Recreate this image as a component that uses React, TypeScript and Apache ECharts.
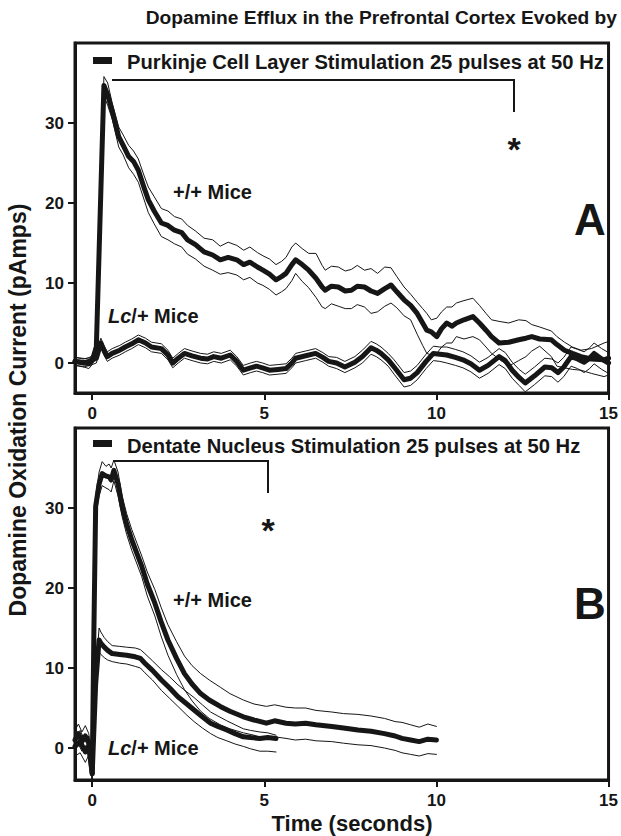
import React, { useEffect, useRef } from "react";
import * as echarts from "echarts";

// ---------- axis ticks ----------
const xTickValues = [0, 5, 10, 15];
const yTickValues = [0, 10, 20, 30];

// ---------- Panel A: Purkinje cell layer stimulation ----------
// +/+ mice
const tA_wt = [
  -0.5, -0.25, 0, 0.12, 0.34, 0.45, 0.58, 0.77, 0.9, 1.06,
  1.2, 1.34, 1.5, 1.63, 1.8, 2.01, 2.2, 2.39, 2.6, 2.77,
  3.0, 3.25, 3.5, 3.72, 3.95, 4.2, 4.4, 4.58, 4.8, 4.96,
  5.15, 5.34, 5.5, 5.63, 5.8, 5.91, 6.1, 6.29, 6.5, 6.68,
  6.77, 6.95, 7.15, 7.35, 7.53, 7.7, 7.91, 8.1, 8.29, 8.5,
  8.68, 8.85, 9.06, 9.25, 9.44, 9.6, 9.72, 9.85, 10.01, 10.15,
  10.3, 10.45, 10.58, 10.8, 11.06, 11.25, 11.44, 11.6, 11.82, 12.1,
  12.39, 12.6, 12.77, 13.0, 13.34, 13.5, 13.72, 13.95, 14.2, 14.5,
  14.87, 15,
];
const meanA_wt = [
  0.2, 0, 0.3, 2, 34.7, 33.5, 31.5, 28.3, 27.2, 25.8,
  25.2, 24.1, 22, 20.4, 19, 17.5, 17.2, 16.6, 16.3, 15.4,
  14.8, 13.9, 13.5, 12.9, 13.2, 12.9, 12.3, 12.6, 12, 11.6,
  11.1, 10.4, 10.8, 11.2, 12.3, 12.9, 12.3, 11.6, 10.6, 9.5,
  9.1, 9.6, 9.5, 9.0, 9.1, 9.6, 9.5, 9.0, 8.7, 9.3,
  9.75, 8.9, 7.9, 7.2, 6.2, 5.0, 4.1, 3.9, 3.3, 4.3,
  5.0, 4.6, 5.0, 5.4, 5.8, 5.0, 4.1, 3.3, 2.5, 2.6,
  2.9, 3.1, 3.3, 3.0, 2.9, 2.3, 1.6, 1.2, 0.8, 0.5,
  0.4, 0.6,
];
const upperA_wt = [
  0.7, 0.5, 0.8, 3, 35.8, 35, 32.5, 29.5, 28.5, 27.2,
  26.5, 25.5, 23.5, 22, 20.8, 19.3, 19, 18.3, 18, 17.2,
  16.5, 15.6, 15.4, 14.6, 15.1, 14.7, 14.1, 14.5, 13.8, 13.4,
  13, 12.3, 12.7, 13.2, 14.5, 15, 14.3, 13.7, 13.7, 12.2,
  11.6, 12.1, 12, 11.5, 11.7, 12.2, 11.6, 11.8, 11.2, 12,
  11.9, 10.8, 9.5, 8.6, 7.6, 6.8, 6.2, 5.4, 5.6, 6.4,
  7, 7, 7.5, 7.8, 8.1, 7.2, 6.2, 5.4, 5.2, 5.0,
  5.4, 5.3, 4.8, 4.5, 4.0, 3.3, 2.6, 2.0, 1.6, 1.8,
  2.5, 2.7,
];
const lowerA_wt = [
  -0.3, -0.5, -0.2, 1, 33.4, 32.2, 30.5, 27, 26, 24.4,
  23.6, 22.6, 20.5, 18.8, 17.4, 15.8, 15.4, 14.9, 14.5, 13.6,
  13, 12.1, 11.6, 11.1, 11.3, 11, 10.4, 10.7, 10, 9.7,
  9.2, 8.5, 8.9, 9.3, 10.3, 11.2, 10.2, 9.4, 8.2, 7,
  6.8, 7.4, 7.1, 6.8, 6.8, 7.3, 7.0, 6.2, 6.4, 7.1,
  7.5, 6.9, 5.9, 5.4, 3.6, 2.2, 1.2, 1.0, 1.2, 2.0,
  2.5, 2.5, 3.3, 3.0, 3.3, 2.9, 2.0, 1.2, 0.5, -0.4,
  0.3, 0.8, 1.5, 2.1, 0.8, -0.4, -0.6, -0.8, -0.9, -1.3,
  -1.7, -1.5,
];

// Lc/+ mice
const tA_lc = [
  -0.5, -0.3, -0.1, 0, 0.12, 0.25, 0.35, 0.44, 0.58, 0.8,
  0.96, 1.15, 1.34, 1.55, 1.72, 2.01, 2.2, 2.34, 2.5, 2.68,
  2.9, 3.15, 3.35, 3.53, 3.75, 4.01, 4.2, 4.39, 4.6, 4.77,
  4.95, 5.15, 5.4, 5.63, 5.8, 5.91, 6.2, 6.49, 6.7, 6.87,
  7.1, 7.34, 7.63, 7.85, 8.1, 8.25, 8.39, 8.6, 8.77, 9.06,
  9.25, 9.44, 9.7, 9.91, 10.1, 10.3, 10.55, 10.77, 11.0, 11.25,
  11.5, 11.82, 12.0, 12.2, 12.4, 12.58, 12.85, 13.15, 13.35, 13.53,
  13.7, 13.91, 14.1, 14.29, 14.45, 14.58, 14.8, 15,
];
const meanA_lc = [
  0.2, 0.1, -0.1, 0.4, 0.6, 2.5, 1.5, 0.8, 1.2, 1.6,
  2.0, 2.4, 2.9, 2.5, 2.0, 1.8, 1.0, 0.0, 0.6, 1.2,
  0.9, 0.6, 0.5, 0.8, 0.6, 1.0, 0.2, -0.9, -0.6, -0.4,
  -0.6, -0.9, -0.8, -0.7, 0.0, 0.6, 0.9, 1.2, 0.7, 0.2,
  0.0, -0.5, 0.1, 0.8, 1.9, 1.6, 1.2, 0.4, -0.5, -2.1,
  -1.9, -1.2, 0.2, 1.2, 1.1, 1.0, 0.7, 0.4, -0.1, -0.9,
  -0.3, 0.8, 0.3, -0.9, -1.8, -2.5, -1.6, -0.5, -0.6, -1.2,
  -0.5, 0.8, 0.5, 0.1, 0.6, 1.2, 0.5, 0.0,
];
const semA_lc = [
  0.5, 0.5, 0.6, 0.6, 0.6, 0.6, 0.6, 0.6, 0.6, 0.6,
  0.6, 0.6, 0.6, 0.6, 0.6, 0.6, 0.6, 0.6, 0.6, 0.6,
  0.6, 0.6, 0.6, 0.6, 0.6, 0.6, 0.6, 0.6, 0.6, 0.6,
  0.6, 0.6, 0.6, 0.6, 0.6, 0.6, 0.6, 0.6, 0.6, 0.6,
  0.7, 0.7, 0.7, 0.8, 0.8, 0.8, 0.8, 0.8, 0.9, 0.9,
  0.9, 0.9, 0.9, 0.9, 0.9, 1.0, 1.0, 1.0, 1.0, 1.0,
  1.0, 1.0, 1.0, 1.0, 1.0, 1.1, 1.1, 1.1, 1.1, 1.2,
  1.2, 1.2, 1.2, 1.3, 1.3, 1.3, 1.3, 1.3,
];

// ---------- Panel B: Dentate nucleus stimulation ----------
// +/+ mice
const tB_wt = [
  -0.5, -0.4, -0.3, -0.2, -0.1, 0, 0.05, 0.1, 0.2, 0.29,
  0.4, 0.49, 0.55, 0.63, 0.75, 0.87, 1.0, 1.15, 1.3, 1.44,
  1.6, 1.82, 2.0, 2.2, 2.45, 2.68, 2.9, 3.15, 3.4, 3.72,
  4.0, 4.39, 4.7, 5.06, 5.3, 5.63, 5.9, 6.2, 6.5, 6.96,
  7.3, 7.72, 8.1, 8.49, 8.8, 9.0, 9.25, 9.5, 9.75, 10.0,
];
const meanB_wt = [
  1.0, 1.8, 0.8, 1.5, 0.6, -3.2, 15, 30.2, 33, 34.3,
  34, 33.9, 33.5, 34.7, 33, 30.2, 28, 26, 24.3, 22.7,
  20.5, 18.1, 15.8, 13.5, 11.2, 9.3, 8.0, 6.8, 6.0, 5.2,
  4.6, 3.9, 3.5, 3.1, 3.4, 3.1, 3.0, 3.1, 2.9, 2.7,
  2.5, 2.25, 2.1, 1.8, 1.5, 1.2, 1.0, 0.8, 1.1, 1.0,
];
const upperB_wt = [
  2.2, 3.0, 2.0, 2.8, 1.8, -2, 16, 31.5, 34.5, 35.8,
  35.2, 35.5, 35, 36, 34.5, 31.5, 29.3, 27.3, 25.6, 24,
  22, 19.8, 17.6, 15.4, 13.3, 11.5, 10.3, 9.3, 8.5, 7.6,
  6.8, 6.0, 5.5, 5.2, 5.4, 5.1, 5.0, 5.0, 4.7, 4.5,
  4.3, 4.2, 4.0, 3.7, 3.3, 3.2, 2.9, 2.6, 3.0, 2.7,
];
const lowerB_wt = [
  -0.2, 0.5, -0.4, 0.3, -0.6, -4, 14, 29, 31.5, 32.8,
  32.5, 32.3, 32, 33.4, 31.5, 28.9, 26.7, 24.7, 23, 21.4,
  19, 16.5, 14, 11.6, 9.2, 7.3, 5.9, 4.6, 3.7, 2.9,
  2.4, 1.9, 1.6, 1.1, 1.4, 1.2, 1.0, 1.1, 0.9, 0.8,
  0.6, 0.4, 0.3, 0.0, -0.3, -0.6, -0.8, -1.0, -0.7, -0.8,
];

// Lc/+ mice
const tB_lc = [
  -0.5, -0.35, -0.2, -0.1, 0, 0.1, 0.2, 0.25, 0.35, 0.45,
  0.58, 0.8, 1.0, 1.25, 1.4, 1.53, 1.75, 2.01, 2.25, 2.49,
  2.75, 2.96, 3.2, 3.44, 3.65, 3.91, 4.15, 4.39, 4.6, 4.87,
  5.1, 5.34,
];
const meanB_lc = [
  0.2, 0.8, -0.5, 0.3, -3.2, 8, 13.5, 13.1, 12.6, 12.2,
  11.8, 11.7, 11.6, 11.4, 11.2, 10.6, 9.7, 8.5, 7.5, 6.4,
  5.5, 4.75, 3.9, 3.1, 2.7, 2.25, 1.8, 1.4, 1.3, 1.2,
  1.3, 1.2,
];
const upperB_lc = [
  1.5, 2.2, 0.8, 1.5, -2.5, 9.5, 15, 14.5, 13.8, 13.3,
  12.8, 12.7, 12.6, 12.5, 12.3, 11.8, 10.9, 9.8, 8.9, 7.9,
  7.0, 6.3, 5.4, 4.5, 4.0, 3.4, 2.9, 2.4, 2.2, 2.0,
  1.9, 1.6,
];
const lowerB_lc = [
  -1.0, -0.6, -1.8, -0.9, -4, 6.5, 12, 11.7, 11.3, 11.0,
  10.8, 10.6, 10.5, 10.2, 10.0, 9.4, 8.5, 7.2, 6.2, 5.2,
  4.1, 3.3, 2.5, 1.8, 1.3, 0.9, 0.5, 0.2, -0.1, -0.4,
  -0.4, -0.5,
];

// ---------- texts ----------
const mainTitle = "Dopamine Efflux in the Prefrontal Cortex Evoked by";
const legendA = "Purkinje Cell Layer Stimulation 25 pulses at 50 Hz";
const legendB = "Dentate Nucleus Stimulation 25 pulses at 50 Hz";
const yTitle = "Dopamine Oxidation Current (pAmps)";
const xTitle = "Time (seconds)";

const FONT = "'Liberation Sans', Arial, Helvetica, sans-serif";
const INK = "#161616";

const pairs = (t: number[], v: number[]) => t.map((x, i) => [x, v[i]]);

function lineSeries(idx: number, data: number[][], width: number, z: number) {
  return {
    type: "line",
    xAxisIndex: idx,
    yAxisIndex: idx,
    data,
    showSymbol: false,
    symbol: "none",
    smooth: false,
    z,
    lineStyle: { color: INK, width, join: "round", cap: "round" },
    emphasis: { disabled: true },
    silent: true,
  };
}

function xAxisCfg(idx: number) {
  return {
    type: "value",
    gridIndex: idx,
    min: -0.5,
    max: 15,
    axisLine: { show: true, onZero: false, lineStyle: { color: INK, width: 3 } },
    axisTick: {
      show: true,
      inside: false,
      length: 7,
      customValues: xTickValues,
      lineStyle: { color: INK, width: 2 },
    },
    axisLabel: {
      show: true,
      margin: 12,
      customValues: xTickValues,
      color: INK,
      fontFamily: FONT,
      fontWeight: "bold",
      fontSize: 17,
    },
    splitLine: { show: false },
  };
}

function yAxisCfg(idx: number, min: number) {
  return {
    type: "value",
    gridIndex: idx,
    min,
    max: 40,
    axisLine: { show: true, onZero: false, lineStyle: { color: INK, width: 3 } },
    axisTick: {
      show: true,
      inside: false,
      length: 7,
      customValues: yTickValues,
      lineStyle: { color: INK, width: 2 },
    },
    axisLabel: {
      show: true,
      margin: 11,
      customValues: yTickValues,
      color: INK,
      fontFamily: FONT,
      fontWeight: "bold",
      fontSize: 17,
    },
    splitLine: { show: false },
  };
}

function txt(text: string, x: number, y: number, size: number, align = "left", extra: any = {}) {
  return {
    type: "text",
    x,
    y,
    silent: true,
    z: 100,
    ...extra,
    style: {
      text,
      fill: INK,
      font: `bold ${size}px ${FONT}`,
      align,
      verticalAlign: "middle",
      textAlign: align,
      textVerticalAlign: "middle",
      ...(extra.style || {}),
    },
  };
}

function miceLc(x: number, y: number) {
  return {
    type: "text",
    x,
    y,
    silent: true,
    z: 100,
    style: {
      text: "{i|Lc}{n|/+ Mice}",
      align: "left",
      verticalAlign: "middle",
      textAlign: "left",
      textVerticalAlign: "middle",
      rich: {
        i: { fontFamily: FONT, fontWeight: "bold", fontStyle: "italic", fontSize: 20, fill: INK, color: INK },
        n: { fontFamily: FONT, fontWeight: "bold", fontSize: 20, fill: INK, color: INK },
      },
    },
  };
}

function bracket(x1: number, y1: number, x2: number, y2: number) {
  return {
    type: "polyline",
    silent: true,
    z: 90,
    shape: { points: [[x1, y1], [x2, y1], [x2, y2]] },
    style: { stroke: INK, lineWidth: 2, fill: "none" },
  };
}

function legendBar(x: number, y: number) {
  return {
    type: "rect",
    silent: true,
    z: 90,
    shape: { x, y, width: 19, height: 7 },
    style: { fill: INK },
  };
}

export default function App() {
  const ref = useRef<HTMLDivElement>(null);

  useEffect(() => {
    document.body.style.margin = "0";
    if (!ref.current) return;
    const chart = echarts.init(ref.current, undefined, { renderer: "svg" });

    const lcUpperA = meanA_lc.map((v, i) => v + semA_lc[i]);
    const lcLowerA = meanA_lc.map((v, i) => v - semA_lc[i]);

    chart.setOption({
      animation: false,
      backgroundColor: "#ffffff",
      grid: [
        { left: 75, top: 43, width: 543, height: 350, show: true, borderColor: INK, borderWidth: 3, backgroundColor: "transparent" },
        { left: 75, top: 428, width: 543, height: 352, show: true, borderColor: INK, borderWidth: 3, backgroundColor: "transparent" },
      ],
      xAxis: [xAxisCfg(0), xAxisCfg(1)],
      yAxis: [yAxisCfg(0, -3.75), yAxisCfg(1, -4)],
      series: [
        lineSeries(0, pairs(tA_wt, upperA_wt), 1, 2),
        lineSeries(0, pairs(tA_wt, lowerA_wt), 1, 2),
        lineSeries(0, pairs(tA_lc, lcUpperA), 1, 2),
        lineSeries(0, pairs(tA_lc, lcLowerA), 1, 2),
        lineSeries(0, pairs(tA_wt, meanA_wt), 5, 3),
        lineSeries(0, pairs(tA_lc, meanA_lc), 5, 3),
        lineSeries(1, pairs(tB_wt, upperB_wt), 1, 2),
        lineSeries(1, pairs(tB_wt, lowerB_wt), 1, 2),
        lineSeries(1, pairs(tB_lc, upperB_lc), 1, 2),
        lineSeries(1, pairs(tB_lc, lowerB_lc), 1, 2),
        lineSeries(1, pairs(tB_wt, meanB_wt), 5, 3),
        lineSeries(1, pairs(tB_lc, meanB_lc), 5, 3),
      ],
      graphic: [
        txt(mainTitle, 617, 17, 19.2, "right"),
        // panel A annotations
        legendBar(93, 57),
        txt(legendA, 127, 62, 20.2),
        bracket(112, 80, 514, 112),
        txt("*", 514, 149, 34, "center"),
        txt("+/+ Mice", 173, 192, 20),
        miceLc(108, 316),
        txt("A", 590, 219, 44, "center"),
        // panel B annotations
        legendBar(93, 440),
        txt(legendB, 127, 446, 20.2),
        bracket(113, 461, 268, 493),
        txt("*", 268, 530, 34, "center"),
        txt("+/+ Mice", 173, 600, 20),
        miceLc(108, 748),
        txt("B", 590, 603, 44, "center"),
        // axis titles
        txt(yTitle, 18, 410, 23, "center", { rotation: Math.PI / 2 }),
        txt(xTitle, 352, 823, 22, "center"),
      ],
    });

    return () => chart.dispose();
  }, []);

  return <div ref={ref} style={{ width: 621, height: 836 }} />;
}
